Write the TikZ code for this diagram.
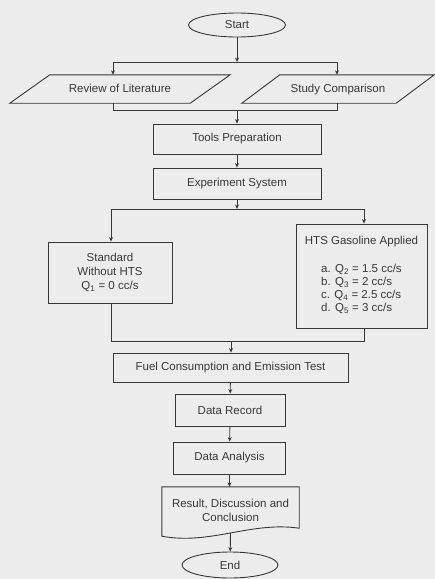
\documentclass[tikz,border=0pt]{standalone}
\usepackage{fontspec}
\setmainfont{Liberation Sans}
\usetikzlibrary{shapes.geometric,arrows.meta,calc}
\definecolor{bgc}{RGB}{236,236,236}
\definecolor{ink}{RGB}{55,55,55}
\begin{document}
\begin{tikzpicture}[x=1pt,y=-1pt,
  every node/.style={text=ink,font=\fontsize{11.5}{14}\selectfont},
  ln/.style={draw=ink,line width=0.9pt},
  arr/.style={ln,-{Stealth[length=4.5pt,width=4pt]}},
  term/.style={ellipse,ln,inner sep=0pt},
  procbox/.style={rectangle,ln,inner sep=1pt,align=center},
  plain/.style={rectangle,inner sep=0pt,align=center},
  oneline/.style={text height=8.5pt,text depth=2.5pt}]
\fill[bgc] (0,0) rectangle (435,579);
\useasboundingbox (0,0) rectangle (435,579);

% nodes
\node[term,minimum width=97pt,minimum height=24pt] (start) at (237,25) {Start};
\node[plain,oneline,minimum width=180pt,minimum height=28pt] (lit) at (120,89) {Review of Literature};
\node[plain,oneline,minimum width=154pt,minimum height=28pt] (stu) at (338,89) {Study Comparison};
\node[procbox,minimum width=168pt,minimum height=30pt] (tools) at (237,139) {Tools Preparation};
\node[procbox,minimum width=168pt,minimum height=31pt] (exp) at (237,183.5) {Experiment System};
\node[procbox,minimum width=124pt,minimum height=61pt] (std) at (110,272.5) {Standard\\Without HTS\\Q\textsubscript{1} = 0 cc/s};
\node[procbox,minimum width=131pt,minimum height=104pt] (hts) at (361.5,276)
  {HTS Gasoline Applied\\[15pt]
   \begin{tabular}{@{}l@{}}a. Q\textsubscript{2} = 1.5 cc/s\\[-1pt] b. Q\textsubscript{3} = 2 cc/s\\[-1pt] c. Q\textsubscript{4} = 2.5 cc/s\\[-1pt] d. Q\textsubscript{5} = 3 cc/s\end{tabular}};
\node[procbox,minimum width=235pt,minimum height=29pt] (fuel) at (230.5,367.5) {Fuel Consumption and Emission Test};
\node[procbox,minimum width=110pt,minimum height=32pt] (rec) at (230,410) {Data Record};
\node[procbox,minimum width=112pt,minimum height=32pt] (ana) at (229.5,458) {Data Analysis};
\node[plain,minimum width=137pt,minimum height=46pt] (res) at (230.5,510) {Result, Discussion and\\Conclusion};
\node[term,minimum width=96pt,minimum height=26pt] (end) at (230,565) {End};

% parallelograms
\draw[ln] ($(lit.north west)+(20,0)$) -- ($(lit.north east)+(20,0)$) -- ($(lit.south east)+(-20,0)$) -- ($(lit.south west)+(-20,0)$) -- cycle;
\draw[ln] ($(stu.north west)+(19,0)$) -- ($(stu.north east)+(19,0)$) -- ($(stu.south east)+(-19,0)$) -- ($(stu.south west)+(-19,0)$) -- cycle;
% document shape
\draw[ln] (res.north west) -- (res.north east) -- ($(res.south east)+(0,-5)$)
  .. controls ($(res.south)+(20,-12)$) and ($(res.south)+(-20,12)$) .. ($(res.south west)+(0,3)$) -- cycle;

% first split
\coordinate (s1) at (237,62);
\coordinate (s1l) at (113,62);
\coordinate (s1r) at (337,62);
\coordinate (j1) at (237,110);
\draw[arr] (start) -- (s1);
\draw[ln] (s1l) -- (s1r);
\draw[arr] (s1l) -- (s1l |- lit.north);
\draw[arr] (s1r) -- (s1r |- stu.north);
\draw[ln] (lit.south -| s1l) -- (s1l |- j1) -- (s1r |- j1) -- (stu.south -| s1r);
\draw[arr] (j1) -- (tools);
\draw[arr] (tools) -- (exp);

% second split
\coordinate (s2) at (237,209);
\coordinate (s2l) at (111,209);
\coordinate (s2r) at (364,209);
\coordinate (j2) at (231,341);
\draw[arr] (exp) -- (s2);
\draw[ln] (s2l) -- (s2r);
\draw[arr] (s2l) -- (s2l |- std.north);
\draw[arr] (s2r) -- (s2r |- hts.north);
\draw[ln] (std.south -| s2l) -- (s2l |- j2) -- (s2r |- j2) -- (hts.south -| s2r);
\draw[arr] (j2) -- (j2 |- fuel.north);

% main chain
\draw[arr] (fuel) -- (rec);
\draw[arr] (rec) -- (ana);
\draw[arr] (ana) -- (ana |- res.north);
\draw[arr] (res.south) -- (end);
\end{tikzpicture}
\end{document}
